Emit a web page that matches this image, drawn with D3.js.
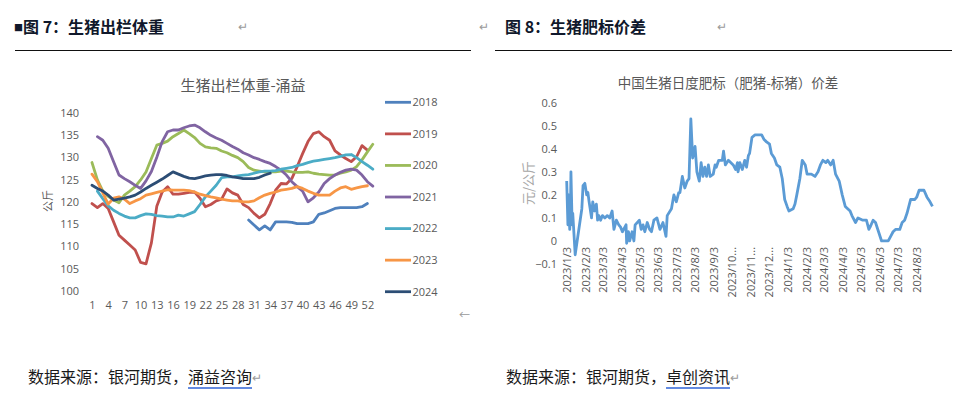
<!DOCTYPE html>
<html>
<head>
<meta charset="utf-8">
<script src="https://cdn.jsdelivr.net/npm/d3@7"></script>
<style>
  body { margin: 0; background: #fff; }
  svg { display: block; font-family: "Noto Sans CJK SC", "Noto Sans", sans-serif; }
</style>
</head>
<body>
<div id="wrapper"></div>
<script>
// ---- 图7 生猪出栏体重 (周度, 公斤)
const weeks = d3.range(1, 54);
const weekTicks = d3.range(1, 53, 3);
const weightTicks = d3.range(100, 141, 5);
const years = ["2018", "2019", "2020", "2021", "2022", "2023", "2024"];
const yearColors = ["#4f81bd", "#c0504d", "#9bbb59", "#8064a2", "#4bacc6", "#f79646", "#2c4d75"];

// first week with a value, then the values
const w2018 = [30, [115.9, 114.8, 113.7, 114.6, 113.7, 115.5, 115.5, 115.5, 115.4, 115.1, 115.1, 115.1, 115.5,
  117.2, 117.5, 118.0, 118.5, 118.7, 118.7, 118.7, 118.7, 118.9, 119.6]];
const w2019 = [1, [119.6, 118.7, 119.6, 118.5, 115.5, 112.5, 111.4, 110.3, 109.2, 106.4, 106.1, 110.8, 119.0,
  122.2, 123.4, 121.7, 121.7, 121.9, 122.1, 122.2, 120.8, 118.9, 119.4, 120.2, 120.6, 122.9, 122.0, 121.5,
  119.4, 118.7, 117.4, 116.4, 117.2, 119.6, 122.6, 124.1, 124.0, 125.2, 127.9, 130.8, 133.5, 135.3, 135.7,
  134.6, 133.8, 131.4, 130.5, 129.7, 129.0, 130.1, 132.6, 131.6]];
const w2020 = [1, [128.8, 124.9, 122.4, 121.2, 120.4, 119.8, 121.5, 122.4, 123.4, 124.9, 126.7, 129.7, 132.7,
  133.1, 133.6, 134.6, 135.3, 136.1, 135.3, 134.4, 133.1, 132.3, 132.1, 132.0, 131.4, 131.0, 130.4, 129.9,
  129.0, 127.7, 127.1, 126.9, 126.7, 126.7, 126.7, 126.9, 126.9, 126.7, 126.6, 126.6, 126.7, 126.4, 126.2,
  126.1, 126.0, 126.0, 126.4, 126.7, 127.1, 127.9, 129.4, 131.2, 132.9]];
const w2021 = [2, [134.6, 133.8, 132.0, 129.0, 126.0, 125.2, 124.5, 123.7, 123.0, 124.7, 126.8, 130.0, 133.5,
  135.7, 136.1, 136.1, 136.6, 137.0, 137.2, 136.6, 135.7, 134.9, 134.3, 133.8, 133.1, 132.4, 131.8, 131.0,
  130.5, 129.9, 129.5, 129.0, 128.6, 127.9, 127.1, 126.0, 124.5, 123.4, 122.4, 120.0, 120.9, 122.2, 124.1,
  125.2, 126.0, 126.6, 127.1, 127.3, 127.1, 126.0, 124.5, 123.5]];
const w2022 = [2, [122.4, 120.7, 119.1, 118.1, 117.4, 116.8, 116.4, 116.4, 116.9, 117.3, 117.2, 116.9, 116.8,
  116.6, 116.6, 117.0, 116.8, 117.3, 117.8, 119.4, 121.1, 122.4, 123.7, 125.4, 125.6, 125.6, 125.8, 126.0,
  126.1, 126.4, 126.7, 126.9, 126.9, 127.0, 127.3, 127.5, 127.7, 128.1, 128.4, 128.8, 129.1, 129.3, 129.5,
  129.7, 129.9, 130.2, 130.5, 130.6, 129.9, 129.0, 128.2, 127.3]];
const w2023 = [1, [126.2, 124.5, 122.0, 119.5, 120.8, 121.1, 120.6, 119.6, 120.2, 120.7, 121.5, 121.8, 122.1,
  122.4, 122.7, 122.6, 122.6, 122.6, 122.5, 122.2, 121.7, 121.4, 121.1, 120.9, 120.6, 120.4, 120.2, 120.2,
  120.0, 120.0, 120.2, 120.9, 121.5, 121.9, 122.2, 122.6, 122.8, 123.0, 123.4, 123.0, 122.4, 121.9, 121.5,
  121.5, 121.5, 122.4, 123.1, 123.4, 122.8, 123.1, 123.4, 123.6]];
const w2024 = [1, [123.7, 123.0, 122.4, 121.5, 120.4, 120.6, 120.8, 121.1, 121.5, 122.2, 123.0, 123.7, 124.4,
  125.1, 125.9, 126.7, 126.2, 125.7, 125.3, 125.2, 125.5, 125.8, 126.0, 126.1, 126.1, 125.9, 125.6, 125.4,
  125.2, 125.2, 125.2, 125.5, 126.0, 126.4]];
const weightSeries = [w2018, w2019, w2020, w2021, w2022, w2023, w2024];

// ---- 图8 生猪日度肥标价差 (元/公斤)
const spreadDates = ["2023-01-03", "2023-01-05", "2023-01-06", "2023-01-08", "2023-01-09", "2023-01-10",
  "2023-01-12", "2023-01-13", "2023-01-17", "2023-01-28", "2023-01-30", "2023-02-02", "2023-02-05",
  "2023-02-07", "2023-02-09", "2023-02-13", "2023-02-15", "2023-02-18", "2023-02-21", "2023-02-23",
  "2023-02-25", "2023-02-28", "2023-03-03", "2023-03-07", "2023-03-11", "2023-03-15", "2023-03-19",
  "2023-03-22", "2023-03-26", "2023-03-30", "2023-04-02", "2023-04-05", "2023-04-11", "2023-04-12",
  "2023-04-15", "2023-04-17", "2023-04-21", "2023-04-24", "2023-04-26", "2023-05-03", "2023-05-06",
  "2023-05-09", "2023-05-12", "2023-05-16", "2023-05-20", "2023-05-23", "2023-05-27", "2023-06-01",
  "2023-06-06", "2023-06-11", "2023-06-16", "2023-06-18", "2023-06-25", "2023-06-29", "2023-07-03",
  "2023-07-07", "2023-07-09", "2023-07-13", "2023-07-17", "2023-07-21", "2023-07-24", "2023-07-27",
  "2023-07-30", "2023-08-03", "2023-08-06", "2023-08-10", "2023-08-13", "2023-08-16", "2023-08-19",
  "2023-08-22", "2023-08-25", "2023-08-28", "2023-09-02", "2023-09-05", "2023-09-07", "2023-09-11",
  "2023-09-17", "2023-09-19", "2023-09-22", "2023-09-27", "2023-10-05", "2023-10-09", "2023-10-12",
  "2023-10-13", "2023-10-16", "2023-10-20", "2023-10-24", "2023-10-27", "2023-10-30", "2023-11-01",
  "2023-11-05", "2023-11-10", "2023-11-21", "2023-11-25", "2023-11-29", "2023-12-04", "2023-12-07",
  "2023-12-12", "2023-12-16", "2023-12-21", "2023-12-25", "2023-12-29", "2024-01-02", "2024-01-05",
  "2024-01-12", "2024-01-15", "2024-01-18", "2024-01-23", "2024-01-27", "2024-02-01", "2024-02-04",
  "2024-02-11", "2024-02-17", "2024-02-22", "2024-02-26", "2024-03-01", "2024-03-06", "2024-03-09",
  "2024-03-14", "2024-03-18", "2024-03-22", "2024-03-28", "2024-04-02", "2024-04-07", "2024-04-15",
  "2024-04-18", "2024-04-24", "2024-04-28", "2024-05-06", "2024-05-12", "2024-05-16", "2024-05-18",
  "2024-05-23", "2024-05-27", "2024-06-01", "2024-06-06", "2024-06-17", "2024-06-21", "2024-06-25",
  "2024-06-29", "2024-07-06", "2024-07-10", "2024-07-14", "2024-07-18", "2024-07-24", "2024-07-31",
  "2024-08-03", "2024-08-07", "2024-08-15", "2024-08-20", "2024-08-25", "2024-08-29"];
const spreadValues = [0.26, 0.07, 0.20, 0.05, 0.10, 0.30, 0.07, 0.12, -0.06, 0.14, 0.24, 0.25, 0.20,
  0.21, 0.17, 0.10, 0.17, 0.13, 0.16, 0.09, 0.11, 0.09, 0.11, 0.10, 0.11, 0.10, 0.13, 0.05, 0.09,
  0.07, 0.06, 0.04, 0.07, -0.01, 0.04, 0.00, 0.04, 0.00, 0.07, 0.09, 0.05, 0.07, 0.04, 0.08, 0.05,
  0.04, 0.09, 0.10, 0.05, 0.08, 0.02, 0.11, 0.14, 0.20, 0.17, 0.21, 0.21, 0.28, 0.23, 0.26, 0.27,
  0.53, 0.36, 0.41, 0.30, 0.26, 0.34, 0.28, 0.32, 0.28, 0.33, 0.28, 0.29, 0.33, 0.32, 0.35, 0.35,
  0.39, 0.33, 0.35, 0.33, 0.31, 0.34, 0.30, 0.34, 0.31, 0.35, 0.32, 0.37, 0.38, 0.45, 0.46, 0.46,
  0.44, 0.43, 0.42, 0.38, 0.36, 0.33, 0.32, 0.27, 0.18, 0.15, 0.13, 0.14, 0.16, 0.20, 0.27, 0.35,
  0.33, 0.29, 0.29, 0.28, 0.30, 0.33, 0.35, 0.34, 0.35, 0.33, 0.35, 0.29, 0.26, 0.20, 0.15, 0.13,
  0.11, 0.08, 0.10, 0.09, 0.09, 0.05, 0.06, 0.09, 0.08, 0.04, 0.00, 0.00, 0.02, 0.04, 0.05, 0.05,
  0.08, 0.09, 0.12, 0.18, 0.18, 0.19, 0.22, 0.22, 0.19, 0.17, 0.15];
const spreadTicks = [-0.1, 0, 0.1, 0.2, 0.3, 0.4, 0.5, 0.6];
const dateTickLabels = ["2023/1/3", "2023/2/3", "2023/3/3", "2023/4/3", "2023/5/3", "2023/6/3",
  "2023/7/3", "2023/8/3", "2023/9/3", "2023/10...", "2023/11...", "2023/12...", "2024/1/3", "2024/2/3",
  "2024/3/3", "2024/4/3", "2024/5/3", "2024/6/3", "2024/7/3", "2024/8/3"];

function drawChart() {
    const svg = d3.select("#wrapper").append("svg")
        .attr("width", 964)
        .attr("height", 399);

    const ink = "#595959";
    const parseDay = d3.timeParse("%Y-%m-%d");

    // ---------- page furniture
    const h7 = svg.append("text").attr("x", 14).attr("y", 33)
        .attr("font-size", 16).attr("font-weight", "bold").attr("fill", "#10182b");
    h7.append("tspan").attr("font-size", 9).attr("dy", -2).text("■");
    h7.append("tspan").attr("dy", 2).text("图 7：生猪出栏体重");
    svg.append("text").attr("x", 238).attr("y", 31).attr("font-size", 12).attr("fill", "#9a9a9a").text("↵");
    svg.append("text").attr("x", 479).attr("y", 31).attr("font-size", 12).attr("fill", "#9a9a9a").text("↵");
    svg.append("text").attr("x", 505).attr("y", 33)
        .attr("font-size", 16).attr("font-weight", "bold").attr("fill", "#10182b")
        .text("图 8：生猪肥标价差");
    svg.append("text").attr("x", 717).attr("y", 31).attr("font-size", 12).attr("fill", "#9a9a9a").text("↵");

    svg.append("line").attr("x1", 15).attr("x2", 471).attr("y1", 50.5).attr("y2", 50.5)
        .attr("stroke", "#111").attr("stroke-width", 1.2);
    svg.append("line").attr("x1", 495).attr("x2", 952).attr("y1", 50.5).attr("y2", 50.5)
        .attr("stroke", "#111").attr("stroke-width", 1.2);

    svg.append("text").attr("x", 459).attr("y", 319).attr("font-size", 11).attr("fill", "#9a9a9a").text("←");

    function source(x, prefix, linked) {
        const t = svg.append("text").attr("x", x).attr("y", 383)
            .attr("font-size", 16).attr("fill", "#1a1a1a").text(prefix);
        const x2 = x + t.node().getComputedTextLength();
        const l = svg.append("text").attr("x", x2).attr("y", 383)
            .attr("font-size", 16).attr("fill", "#1a1a1a").text(linked);
        const x3 = x2 + l.node().getComputedTextLength();
        svg.append("line").attr("x1", x2).attr("x2", x3).attr("y1", 388).attr("y2", 388)
            .attr("stroke", "#2f63d6").attr("stroke-width", 1.3);
        svg.append("text").attr("x", x3).attr("y", 382).attr("font-size", 12).attr("fill", "#9a9a9a").text("↵");
    }
    source(28, "数据来源：银河期货，", "涌益咨询");
    source(506, "数据来源：银河期货，", "卓创资讯");

    // ---------- 图7
    const xScaler = d3.scaleLinear().domain([1, 52]).range([92, 367.4]);
    const yScaler = d3.scaleLinear().domain([100, 140]).range([291, 112.6]);

    svg.append("text").attr("x", 243).attr("y", 91).attr("text-anchor", "middle")
        .attr("font-size", 15).attr("fill", ink).text("生猪出栏体重-涌益");

    const axY = svg.append("g").attr("transform", "translate(88,0)")
        .call(d3.axisLeft(yScaler).tickValues(weightTicks).tickSize(0).tickPadding(9));
    const axX = svg.append("g").attr("transform", "translate(0,291)")
        .call(d3.axisBottom(xScaler).tickValues(weekTicks).tickSize(0).tickPadding(10));
    [axY, axX].forEach(g => {
        g.select(".domain").remove();
        g.selectAll("text").attr("font-size", 11).attr("fill", ink)
            .attr("font-family", "\"Open Sans\", \"Noto Sans\", sans-serif");
    });

    svg.append("text").attr("transform", "translate(52,201) rotate(-90)")
        .attr("text-anchor", "middle").attr("font-size", 11).attr("fill", ink).text("公斤");

    const lineGenerator = d3.line()
        .defined(d => d != null)
        .x((d, i) => xScaler(weeks[i]))
        .y(d => yScaler(d));

    weightSeries.forEach((s, k) => {
        const vals = weeks.map(w => (w >= s[0] && w - s[0] < s[1].length) ? s[1][w - s[0]] : null);
        svg.append("path")
            .attr("d", lineGenerator(vals))
            .attr("fill", "none")
            .attr("stroke", yearColors[k])
            .attr("stroke-width", 2.8)
            .attr("stroke-linejoin", "round")
            .attr("stroke-linecap", "round");
    });

    const legend = svg.append("g");
    years.forEach((y, k) => {
        const ly = 102.3 + k * 31.57;
        legend.append("line").attr("x1", 385).attr("x2", 411).attr("y1", ly).attr("y2", ly)
            .attr("stroke", yearColors[k]).attr("stroke-width", 2.8);
        legend.append("text").attr("x", 412.5).attr("y", ly).attr("dy", "0.35em")
            .attr("font-size", 11).attr("fill", ink)
            .attr("font-family", "\"Open Sans\", \"Noto Sans\", sans-serif").text(y);
    });

    // ---------- 图8
    const tickDates = dateTickLabels.map((d, i) => new Date(2023, i, 3));
    const xDate = d3.scaleTime()
        .domain([new Date(2023, 0, 3), new Date(2024, 7, 3)])
        .range([566.7, 916.7]);
    const ySpread = d3.scaleLinear().domain([-0.1, 0.6]).range([264, 102.7]);

    svg.append("text").attr("x", 728).attr("y", 88).attr("text-anchor", "middle")
        .attr("font-size", 13.5).attr("fill", ink).text("中国生猪日度肥标（肥猪-标猪）价差");

    const ayR = svg.append("g").attr("transform", "translate(561,0)")
        .call(d3.axisLeft(ySpread).tickValues(spreadTicks).tickSize(0).tickPadding(4)
            .tickFormat(d => d3.format("")(Math.round(d * 10) / 10)));
    ayR.select(".domain").remove();
    ayR.selectAll("text").attr("font-size", 11).attr("fill", ink)
        .attr("font-family", "\"Open Sans\", \"Noto Sans\", sans-serif");

    const axR = svg.append("g").attr("transform", `translate(0,${ySpread(0)})`)
        .call(d3.axisBottom(xDate).tickValues(tickDates).tickSize(0)
            .tickFormat((d, i) => dateTickLabels[i]));
    axR.select(".domain").remove();
    axR.selectAll("text")
        .attr("transform", "rotate(-90)")
        .attr("text-anchor", "end")
        .attr("x", -6).attr("y", 0).attr("dy", "0.35em")
        .attr("font-size", 11).attr("fill", ink)
        .attr("font-family", "\"Open Sans\", \"Noto Sans\", sans-serif");

    svg.append("text").attr("transform", "translate(533,183) rotate(-90)")
        .attr("text-anchor", "middle").attr("font-size", 13).attr("fill", "#a6a6a6").text("元/公斤");

    const spreadLine = d3.line()
        .x((d, i) => xDate(parseDay(spreadDates[i])))
        .y(d => ySpread(d));
    svg.append("path")
        .attr("d", spreadLine(spreadValues))
        .attr("fill", "none")
        .attr("stroke", "#5b9bd5")
        .attr("stroke-width", 2.8)
        .attr("stroke-linejoin", "round");
}

drawChart();
</script>
</body>
</html>
